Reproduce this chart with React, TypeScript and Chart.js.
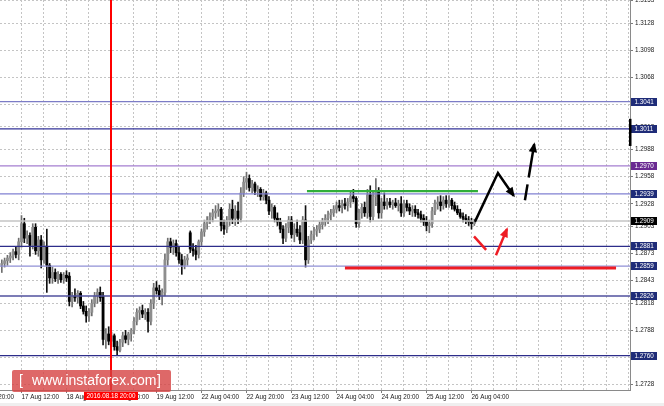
import React, { useEffect, useRef } from "react";
import { Chart, registerables } from "chart.js";

Chart.register(...registerables);

// ---- hourly candles, index 0 = 17 Aug 05:00 (weekend hours skipped) ----
const OPEN = [
  1.2860,1.2862,1.2865,1.2868,1.2870,1.2875,1.2872,1.2886,1.2906,1.2890,
  1.2893,1.2882,1.2902,1.2876,1.2888,1.2866,1.2880,1.2860,1.2846,1.2852,
  1.2845,1.2850,1.2844,1.2849,1.2848,1.2820,1.2826,1.2824,1.2829,1.2815,
  1.2809,1.2804,1.2808,1.2818,1.2826,1.2830,1.2826,1.2778,1.2784,1.2776,
  1.2782,1.2770,1.2766,1.2775,1.2782,1.2778,1.2784,1.2788,1.2798,1.2808,
  1.2810,1.2806,1.2808,1.2798,1.2818,1.2835,1.2832,1.2826,1.2830,1.2866,
  1.2886,1.2880,1.2884,1.2874,1.2866,1.2860,1.2866,1.2896,1.2878,1.2876,
  1.2872,1.2886,1.2897,1.2906,1.2910,1.2914,1.2918,1.2920,1.2922,1.2904,
  1.2900,1.2910,1.2922,1.2912,1.2920,1.2912,1.2940,1.2952,1.2956,1.2946,
  1.2950,1.2942,1.2944,1.2936,1.2940,1.2932,1.2920,1.2924,1.2912,1.2908,
  1.2900,1.2890,1.2902,1.2910,1.2894,1.2900,1.2896,1.2888,1.2910,1.2866,
  1.2888,1.2894,1.2898,1.2900,1.2905,1.2908,1.2912,1.2916,1.2918,1.2922,
  1.2926,1.2924,1.2928,1.2926,1.2930,1.2936,1.2934,1.2906,1.2918,1.2924,
  1.2918,1.2938,1.2914,1.2936,1.2942,1.2918,1.2930,1.2926,1.2930,1.2927,
  1.2929,1.2926,1.2928,1.2918,1.2928,1.2924,1.2920,1.2922,1.2918,1.2916,
  1.2912,1.2908,1.2904,1.2906,1.2920,1.2928,1.2930,1.2926,1.2932,1.2928,
  1.2932,1.2926,1.2922,1.2918,1.2914,1.2912,1.2910,1.2908,1.2906,
];
const HIGH = [
  1.2866,1.2868,1.2871,1.2874,1.2878,1.2880,1.2890,1.2915,1.2912,1.2898,
  1.2896,1.2906,1.2906,1.2892,1.2893,1.2886,1.2900,1.2862,1.2858,1.2856,
  1.2853,1.2852,1.2852,1.2854,1.2852,1.2830,1.2834,1.2832,1.2831,1.2820,
  1.2815,1.2812,1.2822,1.2830,1.2834,1.2836,1.2830,1.2790,1.2792,1.2786,
  1.2784,1.2776,1.2778,1.2786,1.2788,1.2786,1.2790,1.2802,1.2812,1.2814,
  1.2816,1.2812,1.2812,1.2822,1.2840,1.2842,1.2838,1.2834,1.2872,1.2890,
  1.2890,1.2888,1.2888,1.2880,1.2872,1.2870,1.2872,1.2898,1.2884,1.2882,
  1.2888,1.2900,1.2910,1.2914,1.2918,1.2922,1.2926,1.2928,1.2924,1.2910,
  1.2914,1.2928,1.2932,1.2926,1.2930,1.2946,1.2958,1.2963,1.2960,1.2954,
  1.2952,1.2948,1.2946,1.2944,1.2942,1.2936,1.2928,1.2926,1.2918,1.2912,
  1.2904,1.2906,1.2914,1.2914,1.2906,1.2910,1.2904,1.2914,1.2926,1.2892,
  1.2898,1.2902,1.2904,1.2908,1.2912,1.2916,1.2920,1.2922,1.2926,1.2930,
  1.2932,1.2932,1.2934,1.2934,1.2942,1.2944,1.2936,1.2922,1.2928,1.2930,
  1.2944,1.2948,1.2942,1.2956,1.2946,1.2934,1.2940,1.2934,1.2934,1.2932,
  1.2934,1.2932,1.2936,1.2932,1.2932,1.2928,1.2926,1.2926,1.2922,1.2920,
  1.2916,1.2914,1.2910,1.2924,1.2932,1.2936,1.2937,1.2936,1.2937,1.2937,
  1.2934,1.2930,1.2926,1.2922,1.2918,1.2916,1.2914,1.2912,1.2911,
];
const LOW = [
  1.2852,1.2858,1.2860,1.2863,1.2866,1.2868,1.2866,1.2880,1.2885,1.2884,
  1.2870,1.2878,1.2872,1.2870,1.2857,1.2862,1.2830,1.2840,1.2840,1.2842,
  1.2840,1.2841,1.2840,1.2842,1.2815,1.2814,1.2820,1.2818,1.2812,1.2806,
  1.2797,1.2798,1.2804,1.2814,1.2818,1.2820,1.2772,1.2768,1.2772,1.2770,
  1.2766,1.2760,1.2764,1.2770,1.2774,1.2772,1.2776,1.2784,1.2794,1.2800,
  1.2802,1.2800,1.2786,1.2794,1.2812,1.2828,1.2822,1.2816,1.2826,1.2860,
  1.2874,1.2872,1.2870,1.2862,1.2850,1.2856,1.2860,1.2874,1.2870,1.2866,
  1.2868,1.2882,1.2892,1.2900,1.2906,1.2908,1.2912,1.2914,1.2898,1.2894,
  1.2896,1.2904,1.2906,1.2904,1.2906,1.2908,1.2936,1.2944,1.2942,1.2940,
  1.2938,1.2936,1.2932,1.2932,1.2928,1.2916,1.2912,1.2908,1.2904,1.2896,
  1.2884,1.2886,1.2896,1.2890,1.2886,1.2892,1.2884,1.2884,1.2858,1.2862,
  1.2884,1.2888,1.2892,1.2896,1.2900,1.2904,1.2906,1.2910,1.2914,1.2918,
  1.2920,1.2918,1.2922,1.2920,1.2924,1.2930,1.2902,1.2902,1.2912,1.2914,
  1.2912,1.2908,1.2910,1.2926,1.2912,1.2912,1.2922,1.2922,1.2924,1.2922,
  1.2924,1.2920,1.2914,1.2914,1.2920,1.2916,1.2914,1.2914,1.2912,1.2908,
  1.2904,1.2898,1.2896,1.2902,1.2916,1.2922,1.2920,1.2922,1.2924,1.2924,
  1.2922,1.2920,1.2916,1.2912,1.2908,1.2906,1.2904,1.2900,1.2904,
];
const CLOSE = [
  1.2862,1.2865,1.2868,1.2870,1.2875,1.2872,1.2886,1.2906,1.2890,1.2893,
  1.2882,1.2902,1.2876,1.2888,1.2866,1.2882,1.2860,1.2846,1.2852,1.2845,
  1.2850,1.2844,1.2849,1.2846,1.2820,1.2826,1.2824,1.2829,1.2815,1.2809,
  1.2804,1.2808,1.2818,1.2826,1.2830,1.2824,1.2778,1.2784,1.2776,1.2782,
  1.2770,1.2766,1.2775,1.2782,1.2778,1.2784,1.2788,1.2798,1.2808,1.2810,
  1.2806,1.2808,1.2798,1.2818,1.2835,1.2832,1.2826,1.2830,1.2866,1.2886,
  1.2880,1.2884,1.2874,1.2866,1.2860,1.2866,1.2868,1.2878,1.2876,1.2872,
  1.2886,1.2897,1.2906,1.2910,1.2914,1.2918,1.2920,1.2922,1.2904,1.2900,
  1.2910,1.2922,1.2912,1.2920,1.2912,1.2940,1.2952,1.2956,1.2946,1.2950,
  1.2942,1.2944,1.2936,1.2940,1.2932,1.2920,1.2924,1.2912,1.2908,1.2900,
  1.2890,1.2902,1.2910,1.2894,1.2900,1.2896,1.2888,1.2910,1.2866,1.2888,
  1.2894,1.2898,1.2900,1.2905,1.2908,1.2912,1.2916,1.2918,1.2922,1.2926,
  1.2924,1.2928,1.2926,1.2930,1.2936,1.2934,1.2906,1.2918,1.2924,1.2918,
  1.2938,1.2914,1.2936,1.2942,1.2918,1.2930,1.2926,1.2930,1.2927,1.2929,
  1.2926,1.2928,1.2918,1.2928,1.2924,1.2920,1.2922,1.2918,1.2916,1.2912,
  1.2908,1.2904,1.2906,1.2920,1.2928,1.2930,1.2926,1.2932,1.2928,1.2932,
  1.2926,1.2922,1.2918,1.2914,1.2912,1.2910,1.2908,1.2906,1.2909,
];

// ---- time axis ----
const LABEL_INDEX = [-9, 7, 23, 39, 55, 71, 87, 103, 119, 135, 151, 167];
const LABEL_TEXT = [
  "16 Aug 20:00", "17 Aug 12:00", "18 Aug 04:00", "18 Aug 20:00", "19 Aug 12:00",
  "22 Aug 04:00", "22 Aug 20:00", "23 Aug 12:00", "24 Aug 04:00", "24 Aug 20:00",
  "25 Aug 12:00", "26 Aug 04:00",
];
const GRID_INDEX = [-1, 7, 15, 23, 31, 39, 47, 55, 63, 71, 79, 87, 95, 103, 111, 119, 127, 135, 143, 151, 159, 167, 175, 183, 191, 199, 207, 215, 223];
const X_MIN = -0.644;
const X_MAX = 223.36;
const CURSOR_INDEX = 39;
const CURSOR_LABEL = "2016.08.18 20:00";

// ---- price axis ----
const Y_MIN = 1.2722;
const Y_MAX = 1.31535;
const Y_TICKS = [1.2728, 1.2758, 1.2788, 1.2818, 1.2843, 1.2873, 1.2903, 1.2928, 1.2958, 1.2988, 1.3013, 1.3038, 1.3068, 1.3098, 1.3128, 1.3153];
const AXIS_MARK = [1.3022, 1.2992];

// ---- horizontal levels ----
const LEVELS = [1.3041, 1.3011, 1.2970, 1.2939, 1.2909, 1.2881, 1.2859, 1.2826, 1.2760];
const LEVEL_LINE = ["#7c7cc6", "#34349a", "#a47ed0", "#8080d2", "#c4c4c4", "#2d2d8a", "#9090d6", "#50509e", "#2d2d8a"];
const LEVEL_BOX = ["#1f2c78", "#1f2c78", "#6a2a92", "#1f2c78", "#000000", "#1f2c78", "#1f2c78", "#1f2c78", "#1f2c78"];

// ---- drawn annotations (index, price) ----
const GREEN_X = [108.5, 169.3];
const GREEN_Y = [1.2942, 1.2942];
const SUPPORT_X = [122.0, 218.4];
const SUPPORT_Y = [1.2857, 1.2857];
const ARROW1_X = [168.2, 176.4, 182.0];
const ARROW1_Y = [1.2908, 1.2962, 1.2937];
const ARROW2_X = [186.0, 189.3];
const ARROW2_Y = [1.2932, 1.2994];
const RED_SEG_X = [167.9, 172.2];
const RED_SEG_Y = [1.2892, 1.2877];
const RED_ARROW_X = [175.7, 179.6];
const RED_ARROW_Y = [1.2871, 1.2900];

const FONT = "Liberation Sans";
const FS = 6.3;
const BODY_DATASET = 6;

const pts = (xs: number[], ys: number[]) => xs.map((x, k) => ({ x, y: ys[k] }));

const decorPlugin = {
  id: "decor",
  beforeDraw(chart: any) {
    const { ctx, width, height } = chart;
    ctx.save();
    ctx.fillStyle = "#ffffff";
    ctx.fillRect(0, 0, width, height);
    ctx.fillStyle = "#efefef";
    ctx.fillRect(0, 403, width, height - 403);
    ctx.restore();
  },
  afterDatasetDraw(chart: any, args: any) {
    if (args.index !== BODY_DATASET) return;
    const { ctx, chartArea } = chart;
    const ys = chart.scales.y;
    const xs = chart.scales.x;
    ctx.save();
    ctx.setLineDash([]);
    LEVELS.forEach((v, k) => {
      const y = ys.getPixelForValue(v);
      ctx.strokeStyle = LEVEL_LINE[k];
      ctx.lineWidth = 1.3;
      ctx.beginPath();
      ctx.moveTo(chartArea.left, y);
      ctx.lineTo(chartArea.right, y);
      ctx.stroke();
    });
    const cx = Math.round(xs.getPixelForValue(CURSOR_INDEX));
    ctx.fillStyle = "rgb(255,0,0)";
    ctx.fillRect(cx - 1, chartArea.top, 2, chartArea.bottom - chartArea.top);
    ctx.restore();
  },
  afterDatasetsDraw(chart: any) {
    const { ctx } = chart;
    chart.data.datasets.forEach((ds: any, idx: number) => {
      if (!ds.arrowHead) return;
      const d = chart.getDatasetMeta(idx).data;
      const a = d[d.length - 2];
      const b = d[d.length - 1];
      const ang = Math.atan2(b.y - a.y, b.x - a.x);
      const c = Math.cos(ang), s = Math.sin(ang);
      const tx = b.x + c * 2, ty = b.y + s * 2;
      const L = 10, W = 4.2;
      ctx.save();
      ctx.fillStyle = ds.borderColor;
      ctx.beginPath();
      ctx.moveTo(tx, ty);
      ctx.lineTo(tx - c * L - s * W, ty - s * L + c * W);
      ctx.lineTo(tx - c * L + s * W, ty - s * L - c * W);
      ctx.closePath();
      ctx.fill();
      ctx.restore();
    });
  },
  afterDraw(chart: any) {
    const { ctx, chartArea } = chart;
    const ys = chart.scales.y;
    const xs = chart.scales.x;
    ctx.save();
    ctx.setLineDash([]);
    ctx.font = `${FS}px "${FONT}"`;
    ctx.textBaseline = "middle";
    // level boxes on the price axis
    LEVELS.forEach((v, k) => {
      const y = Math.round(ys.getPixelForValue(v));
      ctx.fillStyle = LEVEL_BOX[k];
      ctx.fillRect(chartArea.right + 1, y - 4, 26, 8);
      ctx.fillStyle = "#ffffff";
      ctx.textAlign = "left";
      ctx.fillText(v.toFixed(4), chartArea.right + 4.5, y + 0.3);
    });
    // black marker on the axis
    const m1 = ys.getPixelForValue(AXIS_MARK[0]);
    const m2 = ys.getPixelForValue(AXIS_MARK[1]);
    ctx.fillStyle = "#000000";
    ctx.fillRect(chartArea.right - 1, m1, 2.5, m2 - m1);
    // cursor date box
    const cx = Math.round(xs.getPixelForValue(CURSOR_INDEX));
    const tw = ctx.measureText(CURSOR_LABEL).width;
    const bw = tw + 5;
    ctx.fillStyle = "#ff0000";
    ctx.fillRect(cx - bw / 2, 392, bw, 8);
    ctx.fillStyle = "#ffffff";
    ctx.textAlign = "center";
    ctx.fillText(CURSOR_LABEL, cx, 396.3);
    // watermark
    ctx.fillStyle = "rgba(214, 66, 66, 0.8)";
    const rx = 12, ry = 370, rw = 159, rh = 22, r = 2;
    ctx.beginPath();
    ctx.moveTo(rx + r, ry);
    ctx.lineTo(rx + rw - r, ry);
    ctx.quadraticCurveTo(rx + rw, ry, rx + rw, ry + r);
    ctx.lineTo(rx + rw, ry + rh - r);
    ctx.quadraticCurveTo(rx + rw, ry + rh, rx + rw - r, ry + rh);
    ctx.lineTo(rx + r, ry + rh);
    ctx.quadraticCurveTo(rx, ry + rh, rx, ry + rh - r);
    ctx.lineTo(rx, ry + r);
    ctx.quadraticCurveTo(rx, ry, rx + r, ry);
    ctx.closePath();
    ctx.fill();
    ctx.fillStyle = "#ffffff";
    ctx.textAlign = "left";
    ctx.font = `14px "${FONT}"`;
    ctx.fillText("[", 19, 381.5);
    ctx.fillText("www.instaforex.com", 32, 381.5);
    ctx.fillText("]", 157, 381.5);
    ctx.restore();
  },
};

export default function App() {
  const ref = useRef<HTMLCanvasElement | null>(null);
  useEffect(() => {
    document.body.style.margin = "0";
    const canvas = ref.current;
    if (!canvas) return;
    const idx = OPEN.map((_, i) => i);
    const bull = idx.map((i) => CLOSE[i] >= OPEN[i]);
    const chart = new Chart(canvas, {
      type: "bar",
      data: {
        datasets: [
          {
            type: "line",
            data: pts(ARROW1_X, ARROW1_Y),
            borderColor: "#000000",
            borderWidth: 2.5,
            pointRadius: 0,
            tension: 0,
            fill: false,
            arrowHead: true,
          } as any,
          {
            type: "line",
            data: pts(ARROW2_X, ARROW2_Y),
            borderColor: "#000000",
            borderWidth: 2.5,
            borderDash: [16, 7, 120],
            pointRadius: 0,
            tension: 0,
            fill: false,
            arrowHead: true,
          } as any,
          {
            type: "line",
            data: pts(RED_SEG_X, RED_SEG_Y),
            borderColor: "#ee1c24",
            borderWidth: 2.5,
            pointRadius: 0,
            tension: 0,
            fill: false,
          } as any,
          {
            type: "line",
            data: pts(RED_ARROW_X, RED_ARROW_Y),
            borderColor: "#ee1c24",
            borderWidth: 2.5,
            pointRadius: 0,
            tension: 0,
            fill: false,
            arrowHead: true,
          } as any,
          {
            type: "line",
            data: pts(GREEN_X, GREEN_Y),
            borderColor: "#2fae3a",
            borderWidth: 2.2,
            pointRadius: 0,
            fill: false,
          } as any,
          {
            type: "line",
            data: pts(SUPPORT_X, SUPPORT_Y),
            borderColor: "#ee1c24",
            borderWidth: 3,
            pointRadius: 0,
            fill: false,
          } as any,
          {
            type: "bar",
            data: idx.map((i) => ({ x: i, y: [OPEN[i], CLOSE[i]] })),
            backgroundColor: idx.map((i) => (bull[i] ? "#8e8e8e" : "#000000")),
            barThickness: 2.2,
            minBarLength: 1,
            grouped: false,
            borderWidth: 0,
          } as any,
          {
            type: "bar",
            data: idx.map((i) => ({ x: i, y: [LOW[i], HIGH[i]] })),
            backgroundColor: idx.map((i) => (bull[i] ? "#6e6e6e" : "#111111")),
            barThickness: 1,
            grouped: false,
            borderWidth: 0,
          } as any,
        ],
      },
      options: {
        animation: false,
        responsive: false,
        devicePixelRatio: 1,
        events: [],
        layout: { padding: 0, autoPadding: false },
        plugins: { legend: { display: false }, tooltip: { enabled: false } },
        scales: {
          x: {
            type: "linear",
            min: X_MIN,
            max: X_MAX,
            offset: false,
            bounds: "data",
            afterBuildTicks: (s: any) => {
              s.ticks = GRID_INDEX.concat([-9]).sort((a, b) => a - b).map((v) => ({ value: v }));
            },
            afterFit: (s: any) => {
              s.height = 16;
              s.paddingLeft = 0;
              s.paddingRight = 0;
            },
            grid: {
              offset: false,
              color: (c: any) => (GRID_INDEX.includes(c.tick?.value) ? "#c4c4c4" : "rgba(0,0,0,0)"),
              lineWidth: 1,
              drawTicks: true,
              tickLength: 3,
              tickColor: (c: any) => (LABEL_INDEX.includes(c.tick?.value) && c.tick.value >= 0 ? "#7a7a7a" : "rgba(0,0,0,0)"),
            },
            border: { display: true, color: "#8a8a8a", width: 1, dash: [2, 2] },
            ticks: {
              autoSkip: false,
              maxRotation: 0,
              minRotation: 0,
              align: "start",
              padding: 0,
              color: "#1a1a1a",
              font: { family: FONT, size: FS },
              callback: (v: any) => {
                const k = LABEL_INDEX.indexOf(Number(v));
                return k >= 0 ? LABEL_TEXT[k] : "";
              },
            },
          },
          y: {
            type: "linear",
            position: "right",
            min: Y_MIN,
            max: Y_MAX,
            beginAtZero: false,
            bounds: "data",
            afterBuildTicks: (s: any) => {
              s.ticks = Y_TICKS.map((v) => ({ value: v }));
            },
            afterFit: (s: any) => {
              s.width = 34;
              s.paddingTop = 0;
              s.paddingBottom = 0;
            },
            grid: {
              color: "#c4c4c4",
              lineWidth: 1,
              drawTicks: true,
              tickLength: 3,
              tickColor: "#7a7a7a",
            },
            border: { display: true, color: "#8a8a8a", width: 1, dash: [2, 2] },
            ticks: {
              padding: 2,
              color: "#1a1a1a",
              font: { family: FONT, size: FS },
              callback: (v: any) => Number(v).toFixed(4),
            },
          },
        },
      } as any,
      plugins: [decorPlugin],
    });
    return () => chart.destroy();
  }, []);
  return (
    <div style={{ position: "absolute", left: 0, top: 0, width: 664, height: 406 }}>
      <canvas ref={ref} width={664} height={406} style={{ display: "block", width: 664, height: 406 }} />
    </div>
  );
}
